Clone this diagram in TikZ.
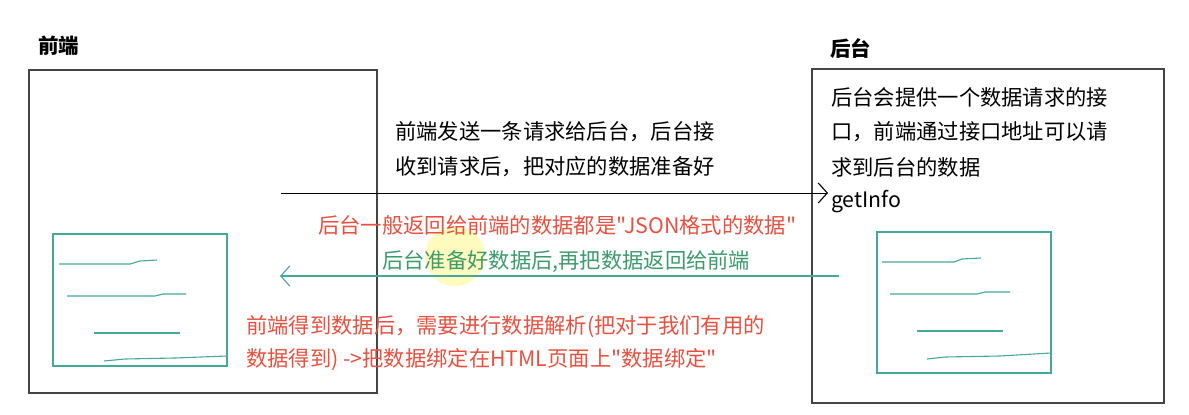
\documentclass[tikz,border=0pt]{standalone}
\usepackage{fontspec}
\setmainfont{Noto Sans CJK SC}[Ligatures=TeXOff]
\usetikzlibrary{arrows.meta}
\definecolor{txtred}{HTML}{E8513F}
\definecolor{txtgreen}{HTML}{3C9C6C}
\definecolor{teal2}{HTML}{44A99C}
\definecolor{boxgray}{HTML}{444444}
\tikzset{
  bigbox/.style={draw=boxgray,line width=1.3pt},
  innerbox/.style={draw=teal2,line width=1.1pt},
  scribble/.style={draw=teal2,line width=1.1pt},
  body/.style={anchor=west,inner sep=0pt,font=\fontsize{21.3}{25}\selectfont},
  title/.style={anchor=west,inner sep=0pt,font=\fontsize{20.5}{24}\selectfont\bfseries},
  barb/.style={-{Straight Barb[length=9pt,width=20pt,line width=1.1pt]}},
}
\begin{document}
\begin{tikzpicture}[x=1pt,y=-1pt]
\useasboundingbox (0,0) rectangle (1189,415);
\fill[white] (0,0) rectangle (1189,415);
% cursor highlight
\fill[yellow!55,opacity=0.45] (455,256) circle (30);
% left side
\node[title] (fe) at (38,46) {前端};
\draw[bigbox] (29,70) rectangle (377,393);
\draw[innerbox] (53,234) rectangle (227,366);
\draw[scribble] (59,264) -- (130,264) -- (140,261) -- (157,260);
\draw[scribble] (67,296) -- (155,296) -- (163,294) -- (186,294);
\draw[scribble] (94,333) -- (180,333);
\draw[scribble] (104,361) -- (125,359) -- (175,358) -- (227,356);
% right side
\node[title] (be) at (830,48) {后台};
\draw[bigbox] (812,69) rectangle (1164,403);
\node[body] (b1) at (831,97) {后台会提供一个数据请求的接};
\node[body] (b2) at (831,132) {口，前端通过接口地址可以请};
\node[body] (b3) at (831,167) {求到后台的数据};
\node[body] (gi) at (831,202) {getInfo};
\draw[innerbox] (877,232) rectangle (1051,373);
\draw[scribble] (882,262) -- (954,262) -- (962,259) -- (981,258);
\draw[scribble] (890,294) -- (977,294) -- (985,292) -- (1010,292);
\draw[scribble] (917,331) -- (1003,331);
\draw[scribble] (927,359) -- (945,357) -- (1000,356) -- (1051,353);
% middle texts
\node[body] (t1) at (395,132) {前端发送一条请求给后台，后台接};
\node[body] (t2) at (395,167) {收到请求后，把对应的数据准备好};
\node[body,text=txtred] (r1) at (318,225) {后台一般返回给前端的数据都是"JSON格式的数据"};
\node[body,text=txtgreen] (g1) at (382,262) {后台准备好数据后,再把数据返回给前端};
\node[body,text=txtred] (r2) at (246,327) {前端得到数据后，需要进行数据解析(把对于我们有用的};
\node[body,text=txtred] (r3) at (246,360) {数据得到) ->把数据绑定在HTML页面上"数据绑定"};
% connectors
\coordinate (reqS) at (281,193);
\coordinate (reqE) at (828,193);
\draw[black,line width=1pt,barb] (reqS) -- (reqE);
\coordinate (resS) at (839,276);
\coordinate (resE) at (280,276);
\draw[teal2,line width=1.1pt,barb] (resS) -- (resE);
\end{tikzpicture}
\end{document}
